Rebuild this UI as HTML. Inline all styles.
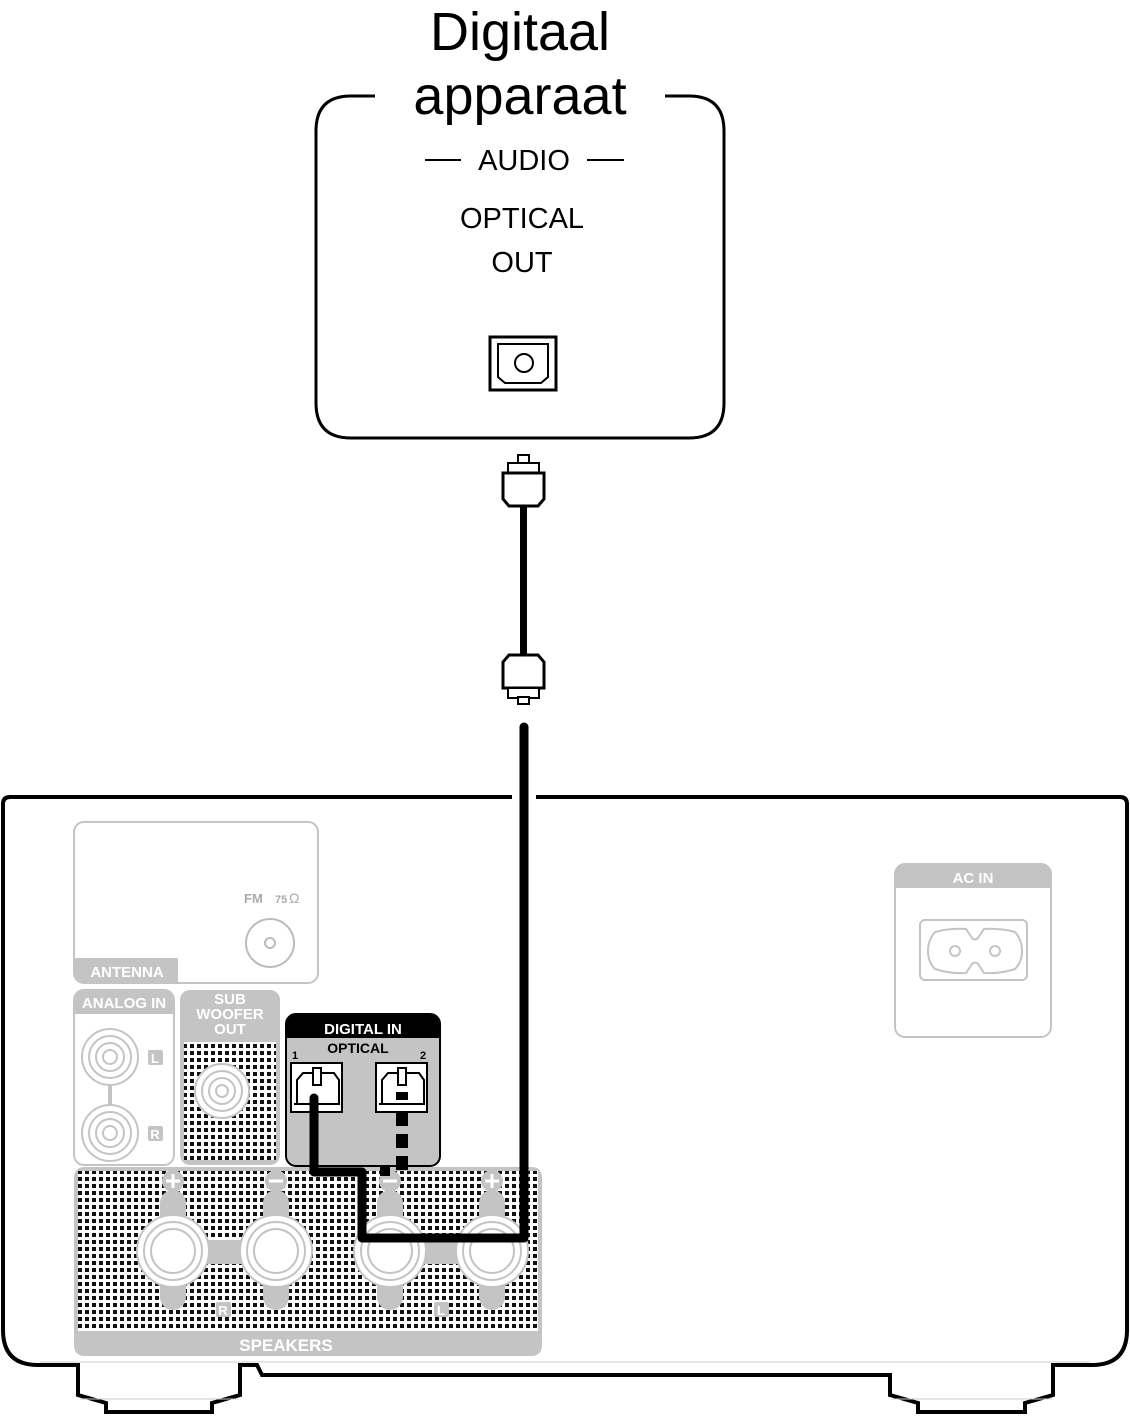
<!DOCTYPE html>
<html><head><meta charset="utf-8"><style>
html,body{margin:0;padding:0;background:#fff}
svg{display:block}
text{font-family:"Liberation Sans",sans-serif}
</style></head><body>
<svg width="1130" height="1416" viewBox="0 0 1130 1416" xmlns="http://www.w3.org/2000/svg">
<defs>
<pattern id="dots" x="0" y="0" width="7" height="7" patternUnits="userSpaceOnUse">
<rect width="7" height="7" fill="#fff"/>
<rect x="1" y="1" width="4" height="4" fill="#111"/>
</pattern>
</defs>

<!-- Device box -->
<path d="M375 96 H351 Q316 96 316 131 V403 Q316 438 351 438 H689 Q724 438 724 403 V131 Q724 96 689 96 H665" fill="none" stroke="#000" stroke-width="3"/>
<text x="520" y="50" font-size="54" text-anchor="middle">Digitaal</text>
<text x="520" y="114" font-size="54" text-anchor="middle">apparaat</text>
<line x1="425" y1="160" x2="461" y2="160" stroke="#000" stroke-width="2"/>
<line x1="587" y1="160" x2="624" y2="160" stroke="#000" stroke-width="2"/>
<text x="524" y="170" font-size="29" text-anchor="middle">AUDIO</text>
<text x="522" y="228" font-size="29" text-anchor="middle">OPTICAL</text>
<text x="522" y="272" font-size="29" text-anchor="middle">OUT</text>
<rect x="490" y="337" width="66" height="53" fill="#fff" stroke="#000" stroke-width="3"/>
<path d="M498 344 H548 V377 L541 383 H505 L498 377 Z" fill="none" stroke="#000" stroke-width="2"/>
<circle cx="524" cy="363" r="9" fill="none" stroke="#000" stroke-width="2"/>

<!-- Cable -->
<rect x="520" y="505" width="7" height="152" fill="#000"/>
<rect x="518" y="455" width="11" height="9" fill="#fff" stroke="#000" stroke-width="2"/>
<rect x="508" y="463" width="31" height="10" fill="#fff" stroke="#000" stroke-width="2"/>
<path d="M503 473 H544 V499 L538 506 H509 L503 499 Z" fill="#fff" stroke="#000" stroke-width="3"/>
<path d="M509 655 H538 L544 662 V688 H503 V662 Z" fill="#fff" stroke="#000" stroke-width="3"/>
<rect x="508" y="688" width="31" height="10" fill="#fff" stroke="#000" stroke-width="2"/>
<rect x="518" y="697" width="11" height="7" fill="#fff" stroke="#000" stroke-width="2"/>

<!-- Chassis -->
<path d="M512 797 H10 Q3 797 3 804 V1330 Q3 1365 38 1365 H78 V1395 L106 1403 V1412 H212 V1403 L240 1395 V1365 H257 L262 1375 H890 V1395 L918 1403 V1412 H1025 V1403 L1053 1395 V1365 H1092 Q1127 1365 1127 1330 V804 Q1127 797 1120 797 H536" fill="none" stroke="#000" stroke-width="4"/>
<line x1="80" y1="1399" x2="238" y2="1399" stroke="#ccc" stroke-width="1"/>
<line x1="892" y1="1399" x2="1052" y2="1399" stroke="#ccc" stroke-width="1"/>
<line x1="40" y1="1362" x2="1090" y2="1362" stroke="#ccc" stroke-width="1"/>

<!-- Antenna -->
<rect x="74" y="822" width="244" height="161" rx="10" fill="none" stroke="#c4c4c4" stroke-width="2"/>
<path d="M74 958 H178 V983 H84 Q74 983 74 973 Z" fill="#c4c4c4"/>
<text x="127" y="977" font-size="15" font-weight="bold" fill="#fff" text-anchor="middle">ANTENNA</text>
<text x="244" y="903" font-size="13" font-weight="bold" fill="#aaa">FM</text>
<text x="275" y="903" font-size="11" font-weight="bold" fill="#aaa">75</text>
<text x="289" y="903" font-size="14" fill="#aaa">Ω</text>
<circle cx="270" cy="943" r="24" fill="none" stroke="#bbb" stroke-width="2"/>
<circle cx="270" cy="943" r="5" fill="none" stroke="#bbb" stroke-width="2"/>

<!-- AC IN -->
<rect x="895" y="864" width="156" height="173" rx="10" fill="none" stroke="#c4c4c4" stroke-width="2"/>
<path d="M895 888 V874 Q895 864 905 864 H1041 Q1051 864 1051 874 V888 Z" fill="#c4c4c4"/>
<text x="973" y="883" font-size="15" font-weight="bold" fill="#fff" text-anchor="middle">AC IN</text>
<rect x="920" y="920" width="107" height="60" rx="5" fill="none" stroke="#c4c4c4" stroke-width="2"/>
<path d="M935 932 Q950 928 966 929 L972 938 Q975 941 978 938 L984 929 Q1000 928 1015 932 Q1022 940 1022 951 Q1022 962 1015 969 Q1000 974 984 973 L978 964 Q975 961 972 964 L966 973 Q950 974 935 969 Q928 962 928 951 Q928 940 935 932 Z" fill="none" stroke="#c4c4c4" stroke-width="2"/>
<circle cx="955" cy="951" r="5" fill="none" stroke="#c4c4c4" stroke-width="2"/>
<circle cx="995" cy="951" r="5" fill="none" stroke="#c4c4c4" stroke-width="2"/>

<!-- Analog In -->
<rect x="74" y="990" width="100" height="175" rx="10" fill="none" stroke="#c4c4c4" stroke-width="2"/>
<path d="M74 1014 V1000 Q74 990 84 990 H164 Q174 990 174 1000 V1014 Z" fill="#c4c4c4"/>
<text x="124" y="1008" font-size="15" font-weight="bold" fill="#fff" text-anchor="middle">ANALOG IN</text>
<line x1="110" y1="1060" x2="110" y2="1130" stroke="#c4c4c4" stroke-width="4"/>
<g fill="#fff" stroke="#c4c4c4" stroke-width="2">
<circle cx="110" cy="1057" r="28"/><circle cx="110" cy="1057" r="21"/><circle cx="110" cy="1057" r="14"/><circle cx="110" cy="1057" r="7"/>
<circle cx="110" cy="1133" r="28"/><circle cx="110" cy="1133" r="21"/><circle cx="110" cy="1133" r="14"/><circle cx="110" cy="1133" r="7"/>
</g>
<rect x="148" y="1050" width="15" height="15" rx="2" fill="#c4c4c4"/>
<text x="155" y="1063" font-size="13" font-weight="bold" fill="#fff" text-anchor="middle">L</text>
<rect x="148" y="1126" width="15" height="15" rx="2" fill="#c4c4c4"/>
<text x="155" y="1139" font-size="13" font-weight="bold" fill="#fff" text-anchor="middle">R</text>

<!-- Sub woofer -->
<rect x="180" y="990" width="100" height="175" rx="10" fill="#c4c4c4"/>
<rect x="184" y="1042" width="92" height="118" fill="url(#dots)"/>
<text x="230" y="1004" font-size="15" font-weight="bold" fill="#fff" text-anchor="middle">SUB</text>
<text x="230" y="1019" font-size="15" font-weight="bold" fill="#fff" text-anchor="middle">WOOFER</text>
<text x="230" y="1034" font-size="15" font-weight="bold" fill="#fff" text-anchor="middle">OUT</text>
<g fill="#fff" stroke="#c4c4c4" stroke-width="2">
<circle cx="222" cy="1091" r="27"/><circle cx="222" cy="1091" r="20"/><circle cx="222" cy="1091" r="13"/><circle cx="222" cy="1091" r="6"/>
</g>

<!-- Speakers -->
<rect x="74" y="1167" width="468" height="189" rx="10" fill="#c4c4c4"/>
<rect x="78" y="1171" width="460" height="160" fill="url(#dots)"/>
<text x="286" y="1351" font-size="17" font-weight="bold" fill="#fff" text-anchor="middle">SPEAKERS</text>
<g fill="#c4c4c4">
<rect x="160" y="1190" width="26" height="120" rx="13"/>
<rect x="263" y="1190" width="26" height="120" rx="13"/>
<rect x="377" y="1190" width="26" height="120" rx="13"/>
<rect x="479" y="1190" width="26" height="120" rx="13"/>
<rect x="173" y="1240" width="103" height="24"/>
<rect x="390" y="1240" width="102" height="24"/>
<circle cx="173" cy="1181" r="11"/><circle cx="276" cy="1181" r="11"/><circle cx="390" cy="1181" r="11"/><circle cx="492" cy="1181" r="11"/>
</g>
<g stroke="#fff" stroke-width="3">
<line x1="166" y1="1181" x2="180" y2="1181"/><line x1="173" y1="1174" x2="173" y2="1188"/>
<line x1="269" y1="1181" x2="283" y2="1181"/>
<line x1="383" y1="1181" x2="397" y2="1181"/>
<line x1="485" y1="1181" x2="499" y2="1181"/><line x1="492" y1="1174" x2="492" y2="1188"/>
</g>
<g fill="#fff" stroke="#c4c4c4" stroke-width="2">
<circle cx="173" cy="1251" r="36"/><circle cx="173" cy="1251" r="29"/><circle cx="173" cy="1251" r="22"/>
<circle cx="276" cy="1251" r="36"/><circle cx="276" cy="1251" r="29"/><circle cx="276" cy="1251" r="22"/>
<circle cx="390" cy="1251" r="36"/><circle cx="390" cy="1251" r="29"/><circle cx="390" cy="1251" r="22"/>
<circle cx="492" cy="1251" r="36"/><circle cx="492" cy="1251" r="29"/><circle cx="492" cy="1251" r="22"/>
</g>
<rect x="216" y="1302" width="15" height="15" rx="2" fill="#c4c4c4"/>
<text x="223" y="1315" font-size="13" font-weight="bold" fill="#fff" text-anchor="middle">R</text>
<rect x="434" y="1302" width="15" height="15" rx="2" fill="#c4c4c4"/>
<text x="441" y="1315" font-size="13" font-weight="bold" fill="#fff" text-anchor="middle">L</text>

<!-- Digital In -->
<rect x="286" y="1014" width="154" height="152" rx="10" fill="#c4c4c4" stroke="#000" stroke-width="2"/>
<path d="M286 1038 V1024 Q286 1014 296 1014 H430 Q440 1014 440 1024 V1038 Z" fill="#000"/>
<text x="363" y="1034" font-size="15" font-weight="bold" fill="#fff" text-anchor="middle">DIGITAL IN</text>
<text x="358" y="1053" font-size="14" font-weight="bold" fill="#000" text-anchor="middle">OPTICAL</text>
<text x="292" y="1059" font-size="11" font-weight="bold">1</text>
<text x="420" y="1059" font-size="11" font-weight="bold">2</text>
<g fill="#fff" stroke="#000" stroke-width="2">
<rect x="291" y="1063" width="51" height="49"/>
<path d="M297 1104 V1080 L303 1073 H334 L339 1080 V1104 Z"/>
<rect x="313" y="1068" width="8" height="17"/>
<line x1="294" y1="1104" x2="340" y2="1104"/>
<rect x="376" y="1063" width="51" height="49"/>
<path d="M382 1104 V1080 L388 1073 H419 L424 1080 V1104 Z"/>
<rect x="398" y="1068" width="8" height="17"/>
<line x1="379" y1="1104" x2="425" y2="1104"/>
</g>
<rect x="396" y="1092" width="12" height="8" fill="#000"/>
<g fill="#000">
<rect x="396" y="1112" width="12" height="14"/>
<rect x="396" y="1134" width="12" height="14"/>
<rect x="396" y="1156" width="12" height="14"/>
<rect x="380" y="1166" width="10" height="10"/>
</g>

<!-- Connection cable -->
<path d="M314 1098 V1172 H362 V1238 H524 V727" fill="none" stroke="#000" stroke-width="9" stroke-linecap="round" stroke-linejoin="round"/>
</svg>
</body></html>
